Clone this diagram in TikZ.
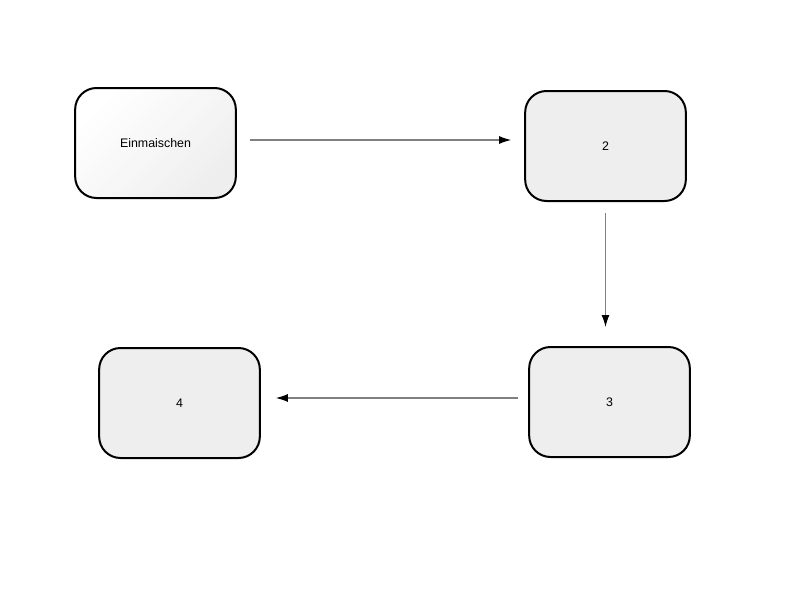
\documentclass[tikz,border=0pt]{standalone}
\usepackage{fontspec}
\setmainfont{Liberation Sans}
\usetikzlibrary{arrows.meta}
\usetikzlibrary{calc}

\definecolor{BoxGray}{HTML}{EEEEEE}
\definecolor{LineGray}{HTML}{808080}

\tikzset{
  step box/.style={draw=black, line width=1.5pt, rounded corners=16pt,
    minimum width=120.5pt, minimum height=82.5pt, fill=BoxGray,
    font=\fontsize{9.3pt}{11pt}\selectfont},
  flow/.style={draw=LineGray, line width=0.9pt,
    -{Latex[black,length=9pt,width=6pt]}}
}

\begin{document}
\begin{tikzpicture}[x=0.75pt,y=-0.75pt]
\useasboundingbox (0,0) rectangle (800,600);

% steps
\node[step box, fill=none, shading=axis, top color=white, bottom color=BoxGray,
  shading angle=45] (mash) at (155.5,143) {Einmaischen};
\node[step box] (s2) at (605.5,146) {2};
\node[step box] (s3) at (609.5,402) {3};
\node[step box] (s4) at (179.5,403) {4};

% connector ends
\coordinate (a1) at ($(mash.east)+(13,-3)$);
\coordinate (a2) at ($(s2.west)+(-13,-6)$);
\coordinate (b1) at ($(s2.south)+(0,11)$);
\coordinate (b2) at ($(s3.north)+(-4,-19)$);
\coordinate (c1) at ($(s3.west)+(-10,-4)$);
\coordinate (c2) at ($(s4.east)+(15,-5)$);

% connectors
\draw[flow] (a1) -- (a2);
\draw[flow] (b1) -- (b2);
\draw[flow] (c1) -- (c2);
\end{tikzpicture}
\end{document}
